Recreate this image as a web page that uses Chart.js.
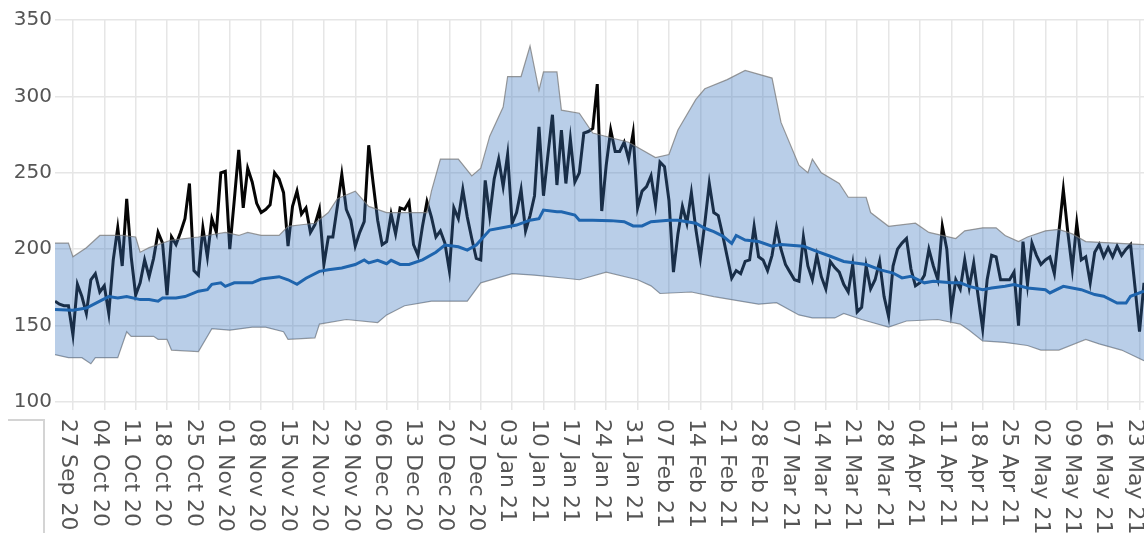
<!DOCTYPE html>
<html>
<head>
<meta charset="utf-8">
<script src="https://cdn.jsdelivr.net/npm/chart.js@4.4.1/dist/chart.umd.min.js"></script>
<style>
  html, body { margin: 0; padding: 0; background: #fff; }
  #wrap { width: 1144px; height: 533px; position: relative; }
</style>
</head>
<body>
<div id="wrap"><canvas id="chart"></canvas></div>
<script>
// day 0 = 23 Sep 2020, last day = 24 May 2021
const weekDays = [4, 11, 18, 25, 32, 39, 46, 53, 60, 67, 74, 81, 88, 95, 102, 109, 116, 123,
  130, 137, 144, 151, 158, 165, 172, 179, 186, 193, 200, 207, 214, 221, 228, 235, 242];
const weekLabels = ['27 Sep 20', '04 Oct 20', '11 Oct 20', '18 Oct 20', '25 Oct 20', '01 Nov 20',
  '08 Nov 20', '15 Nov 20', '22 Nov 20', '29 Nov 20', '06 Dec 20', '13 Dec 20', '20 Dec 20',
  '27 Dec 20', '03 Jan 21', '10 Jan 21', '17 Jan 21', '24 Jan 21', '31 Jan 21', '07 Feb 21',
  '14 Feb 21', '21 Feb 21', '28 Feb 21', '07 Mar 21', '14 Mar 21', '21 Mar 21', '28 Mar 21',
  '04 Apr 21', '11 Apr 21', '18 Apr 21', '25 Apr 21', '02 May 21', '09 May 21', '16 May 21',
  '23 May 21'];

const yTicks = [100, 150, 200, 250, 300, 350];

// daily values (black line)
const dailyValues = [
  166, 164, 163, 163, 144, 177, 169, 158, 180, 184,
  172, 176, 158, 193, 214, 189, 233, 195, 170, 178,
  193, 182, 194, 211, 204, 170, 208, 203, 211, 220,
  243, 186, 183, 214, 195, 220, 211, 250, 251, 200,
  232, 265, 227, 253, 244, 230, 224, 226, 229, 250,
  246, 237, 202, 228, 238, 223, 227, 211, 216, 226,
  190, 208, 208, 228, 249, 226, 219, 202, 211, 218,
  268, 243, 219, 203, 205, 223, 210, 227, 226, 231,
  203, 196, 215, 231, 221, 208, 212, 204, 186, 227,
  220, 239, 221, 207, 194, 193, 245, 222, 246, 259,
  241, 262, 217, 224, 239, 212, 222, 235, 280, 235,
  262, 288, 242, 278, 243, 272, 244, 250, 276, 277,
  279, 308, 225, 255, 278, 264, 264, 270, 259, 276,
  227, 238, 241, 248, 229, 257, 254, 232, 185, 210,
  228, 217, 237, 213, 194, 217, 243, 224, 222, 209,
  195, 181, 186, 184, 192, 193, 215, 195, 193, 186,
  196, 214, 200, 190, 185, 180, 179, 208, 189, 180,
  196, 182, 174, 192, 188, 185, 177, 172, 190, 159,
  162, 189, 174, 180, 192, 169, 156, 189, 200, 204,
  207, 187, 176, 178, 183, 200, 189, 180, 215, 200,
  160, 180, 174, 193, 175, 191, 169, 148, 180, 196,
  195, 180, 180, 180, 185, 150, 205, 177, 204, 196,
  190, 193, 195, 184, 211, 239, 211, 187, 217, 193,
  195, 178, 198, 203, 195, 201, 195, 202, 196, 200,
  203, 175, 146, 178
];

// moving average (blue line), [day, value]
const averageLine = [
  [0, 160.5], [4, 160], [7, 161.5], [10, 166], [12, 169], [14, 168], [16, 169], [19, 167],
  [21, 167], [23, 166], [24, 168], [27, 168], [29, 169], [32, 172.5], [34, 173.5], [35, 177],
  [37, 178], [38, 175.7], [40, 178], [44, 178], [46, 180.5], [50, 182], [52, 180], [54, 177],
  [56, 181], [59, 185.5], [61, 186.6], [64, 187.7], [67, 190], [69, 193], [70, 191], [72, 192.7],
  [74, 190.5], [75, 192.7], [77, 190], [79, 190], [82, 193], [85, 198], [87, 202.7], [90, 201.6],
  [92, 199.4], [94, 202.7], [97, 212.5], [101, 214.7], [103, 215.8], [106, 219], [108, 220],
  [109, 225.6], [112, 224.5], [113, 224.5], [116, 222.3], [117, 219], [120, 219], [124, 218.7],
  [127, 218], [129, 215.2], [131, 215.2], [133, 218], [137, 219], [139, 219], [141, 218],
  [143, 217], [145, 213.7], [147, 211.5], [149, 208.6], [151, 203.8], [152, 209], [154, 206],
  [157, 205], [160, 202], [162, 203], [167, 202], [170, 198.6], [173, 195.4], [176, 192],
  [181, 190], [184, 186.6], [187, 184.4], [189, 181.2], [191, 182.3], [194, 178], [196, 179],
  [200, 178], [202, 178], [204, 175.7], [207, 173.5], [209, 174.6], [212, 175.7], [214, 176.8],
  [217, 174.6], [221, 173.5], [222, 171.4], [225, 175.7], [229, 173.5], [232, 170.3],
  [234, 169.2], [237, 164.8], [239, 164.8], [240, 169.2], [243, 172.5]
];

// band edges, [day, value]
const bandUpper = [
  [0, 204], [3, 204], [4, 195], [7, 201], [10, 209], [15, 209], [18, 208], [19, 198], [21, 201],
  [23, 203], [26, 206], [32, 208], [38, 211], [41, 209], [43, 211], [46, 209], [50, 209],
  [52, 215], [55, 216], [58, 217], [61, 224], [63, 233], [67, 238], [70, 228], [74, 224],
  [83, 224], [84, 238], [86, 259], [90, 259], [93, 248], [95, 253], [97, 274], [100, 293],
  [101, 313], [104, 313], [106, 333], [108, 304], [109, 316], [112, 316], [113, 291], [117, 289],
  [120, 276], [128, 270], [134, 260], [137, 262], [139, 278], [143, 298], [145, 305], [150, 311],
  [154, 317], [160, 312], [162, 283], [166, 255], [168, 250], [169, 259], [171, 250], [175, 243],
  [177, 234], [181, 234], [182, 224], [186, 215], [192, 217], [195, 211], [201, 207], [203, 212],
  [207, 214], [210, 214], [212, 209], [215, 205], [217, 208], [221, 212], [224, 213], [227, 210],
  [230, 205], [243, 203]
];
const bandLower = [
  [0, 131], [3, 129], [6, 129], [8, 125], [9, 129], [14, 129], [16, 146], [17, 143], [22, 143],
  [23, 141], [25, 141], [26, 134], [32, 133], [35, 148], [39, 147], [44, 149], [47, 149],
  [51, 146], [52, 141], [58, 142], [59, 151], [65, 154], [72, 152], [74, 157], [78, 163],
  [84, 166], [92, 166], [95, 178], [102, 184], [107, 183], [114, 181], [117, 180], [123, 185],
  [130, 180], [133, 176], [135, 171], [142, 172], [147, 169], [153, 166], [157, 164], [161, 165],
  [166, 157], [169, 155], [174, 155], [176, 158], [180, 154], [186, 149], [190, 153], [197, 154],
  [202, 151], [204, 147], [207, 140], [212, 139], [217, 137], [220, 134], [224, 134], [230, 141],
  [233, 138], [238, 134], [243, 127]
];

const labelColor = '#555';
const labelFont = '"DejaVu Sans", sans-serif';
const gridColor = '#e6e6e6';

function toPoints(pairs) {
  return pairs.map(([x, y]) => ({ x, y }));
}

const rotatedLabels = {
  id: 'rotatedLabels',
  afterDraw(chart) {
    const { ctx } = chart;
    const xScale = chart.scales.x;

    ctx.save();
    ctx.fillStyle = labelColor;
    ctx.font = '22px ' + labelFont;
    ctx.textAlign = 'left';
    ctx.textBaseline = 'middle';
    weekDays.forEach((day, i) => {
      const x = xScale.getPixelForValue(day);
      ctx.save();
      ctx.translate(x - 5, xScale.top + 17);
      ctx.rotate(Math.PI / 2);
      ctx.fillText(weekLabels[i], 0, 0);
      ctx.restore();
    });

    // frame edge left over from the crop
    ctx.strokeStyle = '#d4d4d4';
    ctx.lineWidth = 2;
    ctx.beginPath();
    ctx.moveTo(8, 420);
    ctx.lineTo(44, 420);
    ctx.lineTo(44, 533);
    ctx.stroke();
    ctx.restore();
  },
};

new Chart(document.getElementById('chart'), {
  type: 'line',
  data: {
    datasets: [
      {
        label: 'Average',
        data: toPoints(averageLine),
        borderColor: '#1f65ae',
        borderWidth: 3,
        pointRadius: 0,
        tension: 0,
        order: 0,
      },
      {
        label: 'Upper',
        data: toPoints(bandUpper),
        borderColor: 'rgba(120,120,120,0.75)',
        borderWidth: 1.2,
        backgroundColor: 'rgba(60,120,190,0.36)',
        fill: 2,
        pointRadius: 0,
        tension: 0,
        order: 1,
      },
      {
        label: 'Lower',
        data: toPoints(bandLower),
        borderColor: 'rgba(120,120,120,0.75)',
        borderWidth: 1.2,
        fill: false,
        pointRadius: 0,
        tension: 0,
        order: 2,
      },
      {
        label: 'Daily',
        data: dailyValues.map((v, i) => ({ x: i, y: v })),
        borderColor: '#050505',
        borderWidth: 3,
        pointRadius: 0,
        tension: 0,
        order: 3,
      },
    ],
  },
  options: {
    responsive: true,
    maintainAspectRatio: false,
    animation: false,
    layout: { padding: { top: 20, right: 0, bottom: 0, left: 0 } },
    plugins: {
      legend: { display: false },
      tooltip: { enabled: false },
    },
    scales: {
      x: {
        type: 'linear',
        min: 0,
        max: dailyValues.length - 1,
        afterBuildTicks: (scale) => {
          scale.ticks = weekDays.map((value) => ({ value }));
        },
        afterFit: (scale) => {
          scale.height = 131;
        },
        ticks: { display: false },
        grid: { color: gridColor, lineWidth: 1.5, drawTicks: true, tickLength: 8 },
        border: { display: false },
      },
      y: {
        min: 100,
        max: 350,
        afterBuildTicks: (scale) => {
          scale.ticks = yTicks.map((value) => ({ value }));
        },
        afterFit: (scale) => {
          scale.width = 55;
        },
        ticks: {
          color: labelColor,
          font: { family: labelFont, size: 20 },
          padding: 3,
        },
        grid: { color: gridColor, lineWidth: 1.5, drawTicks: false },
        border: { display: false },
      },
    },
  },
  plugins: [rotatedLabels],
});
</script>
</body>
</html>
